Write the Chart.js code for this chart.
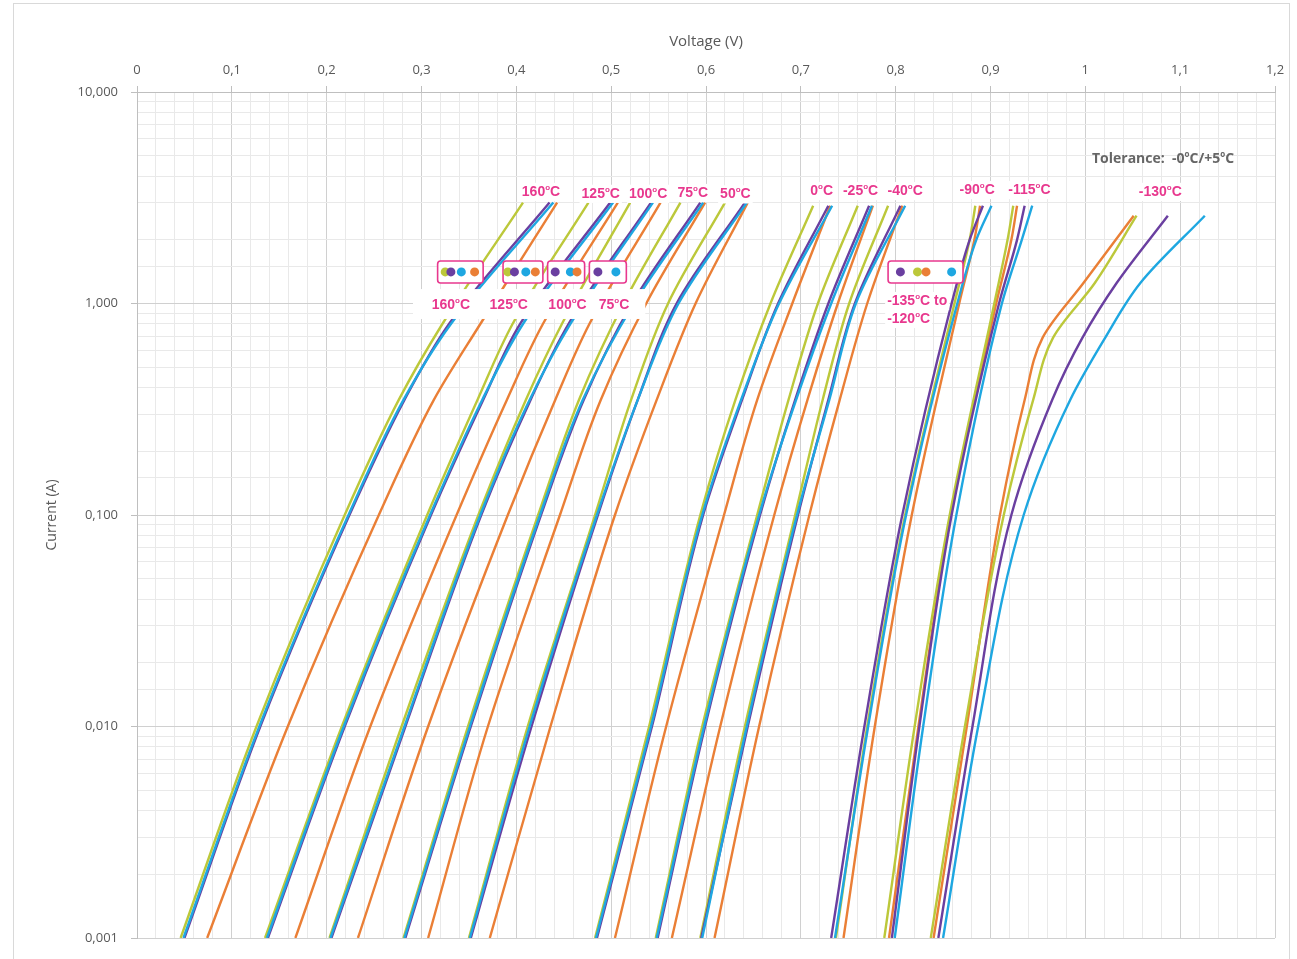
<!DOCTYPE html>
<html>
<head>
<meta charset="utf-8">
<script src="https://cdn.jsdelivr.net/npm/chart.js@4.4.1/dist/chart.umd.min.js"></script>
<style>
  html, body { margin: 0; padding: 0; background: #fff; }
  #wrap { width: 1297px; height: 959px; }
</style>
</head>
<body>
<div id="wrap"><canvas id="ivChart" width="1297" height="959"></canvas></div>
<script>
// each temperature group: one current list (A) and four voltage curves (V)
// curve order in every group: yellow, purple, cyan, orange
const sampleColors = ["#bcc83a", "#6a3fa0", "#1ea7e1", "#ea7f36"];
const sampleOrder = [2, 1, 0, 3];

const cur160 = [0.001, 0.01, 0.1, 0.35, 0.8, 3];
const volt160 = [
  [0.046, 0.126, 0.219, 0.276, 0.322, 0.407],
  [0.050, 0.130, 0.224, 0.282, 0.329, 0.435],
  [0.049, 0.129, 0.223, 0.281, 0.331, 0.439],
  [0.074, 0.159, 0.255, 0.313, 0.362, 0.443]
];
const cur125 = [0.001, 0.01, 0.1, 0.35, 0.8, 3];
const volt125 = [
  [0.135, 0.216, 0.306, 0.359, 0.396, 0.476],
  [0.138, 0.219, 0.310, 0.365, 0.404, 0.499],
  [0.137, 0.218, 0.309, 0.364, 0.407, 0.502],
  [0.167, 0.246, 0.337, 0.390, 0.428, 0.507]
];
const cur100 = [0.001, 0.01, 0.1, 0.35, 0.8, 3];
const volt100 = [
  [0.203, 0.279, 0.360, 0.410, 0.448, 0.520],
  [0.205, 0.283, 0.363, 0.415, 0.455, 0.542],
  [0.204, 0.282, 0.362, 0.414, 0.457, 0.544],
  [0.233, 0.307, 0.391, 0.441, 0.477, 0.552]
];
const cur75 = [0.001, 0.01, 0.1, 0.35, 1, 3];
const volt75 = [
  [0.281, 0.349, 0.423, 0.466, 0.513, 0.573],
  [0.283, 0.352, 0.426, 0.471, 0.522, 0.594],
  [0.282, 0.351, 0.425, 0.470, 0.524, 0.597],
  [0.307, 0.370, 0.446, 0.489, 0.537, 0.599]
];
const cur50 = [0.001, 0.01, 0.1, 0.35, 1, 3];
const volt50 = [
  [0.350, 0.412, 0.483, 0.521, 0.560, 0.620],
  [0.352, 0.416, 0.486, 0.528, 0.569, 0.641],
  [0.351, 0.414, 0.485, 0.528, 0.571, 0.643],
  [0.372, 0.436, 0.504, 0.548, 0.589, 0.644]
];
const cur0 = [0.001, 0.01, 0.1, 0.35, 1, 2.9];
const volt0 = [
  [0.483, 0.540, 0.594, 0.631, 0.668, 0.713],
  [0.485, 0.543, 0.597, 0.638, 0.676, 0.729],
  [0.484, 0.542, 0.596, 0.637, 0.677, 0.733],
  [0.504, 0.558, 0.619, 0.654, 0.691, 0.731]
];
const curM25 = [0.001, 0.01, 0.1, 0.35, 1, 2.9];
const voltM25 = [
  [0.547, 0.596, 0.654, 0.687, 0.718, 0.760],
  [0.549, 0.599, 0.657, 0.694, 0.729, 0.772],
  [0.548, 0.598, 0.656, 0.695, 0.732, 0.775],
  [0.564, 0.615, 0.672, 0.707, 0.739, 0.776]
];
const curM40 = [0.001, 0.01, 0.1, 0.35, 1, 2.9];
const voltM40 = [
  [0.594, 0.641, 0.694, 0.723, 0.751, 0.792],
  [0.595, 0.644, 0.697, 0.729, 0.757, 0.805],
  [0.596, 0.643, 0.696, 0.730, 0.758, 0.810],
  [0.609, 0.656, 0.709, 0.741, 0.770, 0.807]
];
const curM90 = [0.001, 0.01, 0.1, 1, 2, 2.9];
const voltM90 = [
  [0.737, 0.770, 0.810, 0.862, 0.878, 0.884],
  [0.732, 0.767, 0.807, 0.859, 0.878, 0.892],
  [0.736, 0.771, 0.811, 0.865, 0.885, 0.901],
  [0.745, 0.778, 0.817, 0.867, 0.883, 0.889]
];
const curM115 = [0.001, 0.01, 0.1, 1, 2, 2.9];
const voltM115 = [
  [0.788, 0.820, 0.857, 0.904, 0.918, 0.924],
  [0.796, 0.825, 0.859, 0.909, 0.928, 0.936],
  [0.799, 0.829, 0.864, 0.912, 0.933, 0.944],
  [0.793, 0.824, 0.858, 0.906, 0.922, 0.928]
];
const curM130 = [0.001, 0.01, 0.1, 0.35, 0.69, 1.25, 2.6];
const voltM130 = [
  [0.837, 0.873, 0.914, 0.945, 0.966, 1.010, 1.054],
  [0.845, 0.881, 0.922, 0.965, 0.997, 1.033, 1.087],
  [0.850, 0.887, 0.935, 0.984, 1.021, 1.058, 1.126],
  [0.840, 0.875, 0.910, 0.936, 0.955, 0.998, 1.051]
];

const groups = [
  [cur160, volt160], [cur125, volt125], [cur100, volt100], [cur75, volt75],
  [cur50, volt50], [cur0, volt0], [curM25, voltM25], [curM40, voltM40],
  [curM90, voltM90], [curM115, voltM115], [curM130, voltM130]
];

// annotation texts
const topLabels = ["160ºC", "125ºC", "100ºC", "75ºC", "50ºC", "0ºC", "-25ºC", "-40ºC", "-90ºC", "-115ºC", "-130ºC"];
const lowLabels = ["160ºC", "125ºC", "100ºC", "75ºC"];
const toleranceText = "Tolerance:  -0ºC/+5ºC";
const rangeText = ["-135ºC to", "-120ºC"];

const PINK = "#e8388e";
const LABEL_FONT = '"Liberation Sans", Arial, sans-serif';
const NOTE_FONT = '"Open Sans", sans-serif';

function pieces(ctx, str, size, family) {
  // split so the degree "o" can be drawn small and raised
  const parts = str.split("º");
  const big = `bold ${size}px ${family}`;
  const small = `bold ${Math.round(size * 0.6)}px ${family}`;
  let w = 0;
  ctx.font = small;
  const ow = ctx.measureText("o").width;
  ctx.font = big;
  parts.forEach((p, k) => { w += ctx.measureText(p).width + (k < parts.length - 1 ? ow : 0); });
  return {parts, big, small, ow, w};
}

function degText(ctx, str, x, y, size, color, align, whiteBg, family) {
  const m = pieces(ctx, str, size, family || LABEL_FONT);
  let cx = align === "left" ? x : x - m.w / 2;
  if (whiteBg) {
    ctx.fillStyle = "#fff";
    ctx.fillRect(cx - 2, y - size * 0.65, m.w + 4, size * 1.3);
  }
  ctx.fillStyle = color;
  ctx.textAlign = "left";
  ctx.textBaseline = "middle";
  m.parts.forEach((p, k) => {
    ctx.font = m.big;
    ctx.fillText(p, cx, y);
    cx += ctx.measureText(p).width;
    if (k < m.parts.length - 1) {
      ctx.font = m.small;
      ctx.fillText("o", cx, y - size * 0.3);
      cx += m.ow;
    }
  });
}

const labelPlugin = {
  id: "tempLabels",
  afterDatasetsDraw(chart) {
    const {ctx, scales: {x, y}} = chart;
    const px = v => x.getPixelForValue(v);
    const py = a => y.getPixelForValue(a);
    ctx.save();

    // labels along the top of the curves
    const topV = [0.426, 0.489, 0.539, 0.586, 0.631, 0.722, 0.763, 0.810, 0.886, 0.941, 1.079];
    const topI = [3.37, 3.30, 3.30, 3.33, 3.28, 3.40, 3.40, 3.40, 3.44, 3.44, 3.37];
    topLabels.forEach((t, i) => degText(ctx, t, px(topV[i]), py(topI[i]), 14, PINK, "center", true));

    degText(ctx, toleranceText, px(1.007), py(4.82), 14, "#666666", "left", false, NOTE_FONT);

    // white patch with the lower labels
    ctx.fillStyle = "#fff";
    ctx.fillRect(px(0.291), py(1.17), px(0.536) - px(0.291), py(0.845) - py(1.17));
    const lowV = [0.331, 0.392, 0.454, 0.503];
    lowLabels.forEach((t, i) => degText(ctx, t, px(lowV[i]), py(0.984), 14, PINK, "center", false));

    degText(ctx, rangeText[0], px(0.791), py(1.027), 14, PINK, "left", true);
    degText(ctx, rangeText[1], px(0.791), py(0.845), 14, PINK, "left", true);

    // small boxes showing the sample colour order
    const boxes = [
      {from: 0.317, to: 0.365, dots: [[0.325, 0], [0.331, 1], [0.342, 2], [0.356, 3]]},
      {from: 0.386, to: 0.428, dots: [[0.391, 0], [0.398, 1], [0.410, 2], [0.420, 3]]},
      {from: 0.433, to: 0.472, dots: [[0.441, 1], [0.457, 2], [0.464, 3]]},
      {from: 0.477, to: 0.516, dots: [[0.486, 1], [0.505, 2]]},
      {from: 0.792, to: 0.871, dots: [[0.805, 1], [0.823, 0], [0.832, 3], [0.859, 2]]}
    ];
    const cy = py(1.41);
    boxes.forEach(b => {
      const x0 = px(b.from), x1 = px(b.to);
      ctx.fillStyle = "#fff";
      ctx.strokeStyle = PINK;
      ctx.lineWidth = 1.6;
      ctx.beginPath();
      ctx.roundRect(x0, cy - 11, x1 - x0, 22, 3);
      ctx.fill();
      ctx.stroke();
      b.dots.forEach(([v, c]) => {
        ctx.fillStyle = sampleColors[c];
        ctx.beginPath();
        ctx.arc(px(v), cy, 4.5, 0, Math.PI * 2);
        ctx.fill();
      });
    });
    ctx.restore();
  }
};

const framePlugin = {
  id: "frame",
  beforeDraw(chart) {
    const ctx = chart.ctx;
    ctx.save();
    ctx.fillStyle = "#fff";
    ctx.fillRect(0, 0, chart.width, chart.height);
    ctx.strokeStyle = "#d9d9d9";
    ctx.lineWidth = 1;
    ctx.strokeRect(13.5, 3.5, 1276, 960);
    ctx.restore();
  }
};

const datasets = [];
groups.forEach(([cur, volts]) => {
  volts.forEach((vs, k) => {
    datasets.push({
      data: vs.map((v, i) => ({x: v, y: cur[i]})),
      borderColor: sampleColors[k],
      borderWidth: 2.4,
      pointRadius: 0,
      cubicInterpolationMode: "monotone",
      order: sampleOrder[k],
      fill: false
    });
  });
});

const isMajorV = v => Math.abs(v * 10 - Math.round(v * 10)) < 1e-6;
const isDecade = v => Math.abs(Math.log10(v) - Math.round(Math.log10(v))) < 1e-6;
const tickFont = {family: '"Open Sans", sans-serif', size: 13};

new Chart(document.getElementById("ivChart"), {
  type: "line",
  data: {datasets},
  options: {
    // current is the independent axis, so curves are splined along y
    indexAxis: "y",
    responsive: false,
    animation: false,
    layout: {padding: {left: 0, top: 0, right: 22, bottom: 21}},
    plugins: {legend: {display: false}, tooltip: {enabled: false}},
    scales: {
      x: {
        type: "linear",
        position: "top",
        min: 0,
        max: 1.2,
        afterFit: s => { s.height = 92; },
        title: {display: true, text: "Voltage (V)", color: "#595959",
                font: {family: '"Open Sans", sans-serif', size: 15}, padding: {top: 33}},
        ticks: {
          stepSize: 0.02,
          maxTicksLimit: 100,
          autoSkip: false,
          maxRotation: 0,
          color: "#595959",
          font: tickFont,
          padding: 8,
          callback: v => isMajorV(v) ? String(Math.round(v * 10) / 10).replace(".", ",") : ""
        },
        grid: {
          color: c => isMajorV(c.tick.value) ? "#d0d0d0" : "#e9e9e9",
          tickColor: c => isMajorV(c.tick.value) ? "#bfbfbf" : "rgba(0,0,0,0)",
          tickLength: 6
        },
        border: {color: "#bfbfbf"}
      },
      y: {
        type: "logarithmic",
        position: "left",
        min: 0.001,
        max: 10,
        afterFit: s => { s.width = 137; },
        title: {display: true, text: "Current (A)", color: "#595959",
                font: {family: '"Open Sans", sans-serif', size: 14}, padding: {top: 44}},
        ticks: {
          autoSkip: false,
          color: "#595959",
          font: tickFont,
          padding: 13,
          callback: v => isDecade(v) ? v.toFixed(3).replace(".", ",") : ""
        },
        grid: {
          color: c => isDecade(c.tick.value) ? "#d0d0d0" : "#e9e9e9",
          tickColor: c => isDecade(c.tick.value) ? "#bfbfbf" : "rgba(0,0,0,0)",
          tickLength: 6
        },
        border: {color: "#bfbfbf"}
      }
    }
  },
  plugins: [framePlugin, labelPlugin]
});
</script>
</body>
</html>
